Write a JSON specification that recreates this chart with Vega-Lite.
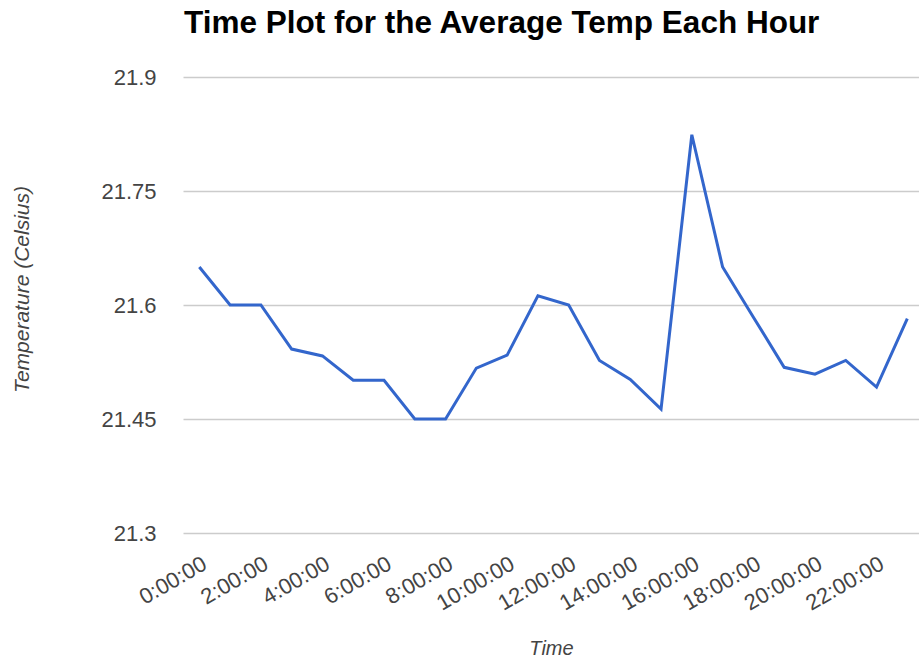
{
  "$schema": "https://vega.github.io/schema/vega-lite/v6.json",
  "autosize": {"type": "none"},
  "width": 736,
  "height": 456,
  "padding": {"top": 77, "left": 183, "right": 0, "bottom": 129},
  "background": "white",
  "config": {
    "view": {"stroke": null},
    "font": "Liberation Sans"
  },
  "title": {
    "text": "Time Plot for the Average Temp Each Hour",
    "font": "Liberation Sans",
    "fontSize": 31.5,
    "fontWeight": "bold",
    "color": "#000000",
    "anchor": "start",
    "frame": "group",
    "dx": 1,
    "offset": 27
  },
  "data": {
    "values": [
      {"hour": 0, "temp": 21.650},
      {"hour": 1, "temp": 21.600},
      {"hour": 2, "temp": 21.600},
      {"hour": 3, "temp": 21.542},
      {"hour": 4, "temp": 21.533},
      {"hour": 5, "temp": 21.501},
      {"hour": 6, "temp": 21.501},
      {"hour": 7, "temp": 21.450},
      {"hour": 8, "temp": 21.450},
      {"hour": 9, "temp": 21.517},
      {"hour": 10, "temp": 21.534},
      {"hour": 11, "temp": 21.612},
      {"hour": 12, "temp": 21.600},
      {"hour": 13, "temp": 21.527},
      {"hour": 14, "temp": 21.502},
      {"hour": 15, "temp": 21.463},
      {"hour": 16, "temp": 21.824},
      {"hour": 17, "temp": 21.650},
      {"hour": 18, "temp": 21.584},
      {"hour": 19, "temp": 21.518},
      {"hour": 20, "temp": 21.509},
      {"hour": 21, "temp": 21.527},
      {"hour": 22, "temp": 21.492},
      {"hour": 23, "temp": 21.582}
    ]
  },
  "mark": {"type": "line", "color": "#3366cc", "strokeWidth": 3},
  "encoding": {
    "x": {
      "field": "hour",
      "type": "quantitative",
      "scale": {"domain": [-0.53, 23.38], "nice": false, "zero": false},
      "axis": {
        "title": "Time",
        "values": [0, 2, 4, 6, 8, 10, 12, 14, 16, 18, 20, 22],
        "labelExpr": "datum.value + ':00:00'",
        "labelAngle": -30,
        "labelAlign": "right",
        "labelBaseline": "top",
        "labelPadding": 20,
        "labelDx": -6,
        "labelFontSize": 22,
        "labelColor": "#444444",
        "labelOverlap": false,
        "labelBound": false,
        "labelFlush": false,
        "domain": false,
        "ticks": false,
        "grid": false,
        "titleFontSize": 20,
        "titleFontStyle": "italic",
        "titleFontWeight": "normal",
        "titleColor": "#444444",
        "titleBaseline": "middle",
        "titleY": 115
      }
    },
    "y": {
      "field": "temp",
      "type": "quantitative",
      "scale": {"domain": [21.3, 21.9], "nice": false, "zero": false},
      "axis": {
        "title": "Temperature (Celsius)",
        "values": [21.3, 21.45, 21.6, 21.75, 21.9],
        "labelExpr": "'' + datum.value",
        "labelFontSize": 22,
        "labelColor": "#444444",
        "labelPadding": 27,
        "domain": false,
        "ticks": false,
        "grid": true,
        "gridColor": "#cccccc",
        "gridWidth": 1.5,
        "titleFontSize": 21,
        "titleFontStyle": "italic",
        "titleFontWeight": "normal",
        "titleColor": "#444444",
        "titleAngle": -90,
        "titleAlign": "center",
        "titleBaseline": "middle",
        "titleX": -161,
        "titleY": 212
      }
    }
  }
}
